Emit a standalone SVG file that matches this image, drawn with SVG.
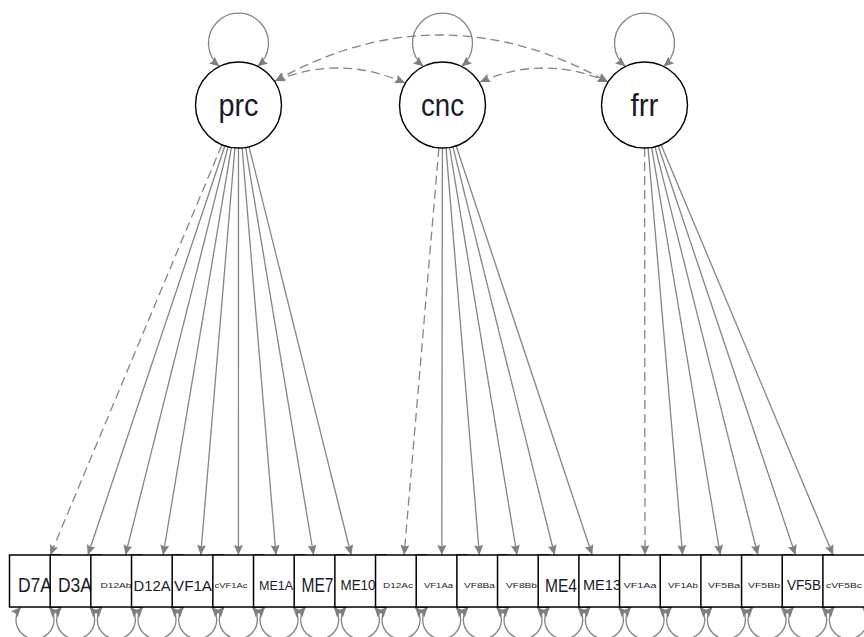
<svg xmlns="http://www.w3.org/2000/svg" width="864" height="637" viewBox="0 0 864 637">
<defs>
<marker id="ah" viewBox="0 0 10 9" refX="10" refY="4.5" markerWidth="10" markerHeight="9" markerUnits="userSpaceOnUse" orient="auto-start-reverse"><path d="M0,0 L10,4.5 L0,9 L1.5,4.5 z" fill="#808080"/></marker>
</defs>
<style>
.e{stroke:#858585;stroke-width:1.3;fill:none}
.d{stroke-dasharray:9 5}
.lat{fill:#fff;stroke:#000;stroke-width:1.4}
.box{fill:#fff;stroke:#000;stroke-width:1.5}
.lt{font-family:"Liberation Sans",Arial,sans-serif;fill:#1a1a2a;text-anchor:middle}
</style>
<rect width="864" height="637" fill="#fff"/>
<g id="connectors">
<path class="e" d="M219.5 66.4 A30 30 0 1 1 257.5 66.4" marker-start="url(#ah)" marker-end="url(#ah)"/>
<path class="e" d="M423.5 66.4 A30 30 0 1 1 461.5 66.4" marker-start="url(#ah)" marker-end="url(#ah)"/>
<path class="e" d="M625.5 66.4 A30 30 0 1 1 663.5 66.4" marker-start="url(#ah)" marker-end="url(#ah)"/>
<path class="e d" d="M275 81 Q340 54 405 83" marker-start="url(#ah)" marker-end="url(#ah)"/>
<path class="e d" d="M275 81 Q440 -11.5 608 82" marker-start="url(#ah)" marker-end="url(#ah)"/>
<path class="e d" d="M480 82 Q544 54 608 82" marker-start="url(#ah)" marker-end="url(#ah)"/>
<line class="e d" x1="221.9" y1="144.7" x2="50.3" y2="555" marker-end="url(#ah)"/>
<line class="e" x1="224.9" y1="145.8" x2="87.9" y2="555" marker-end="url(#ah)"/>
<line class="e" x1="228.0" y1="146.7" x2="125.5" y2="555" marker-end="url(#ah)"/>
<line class="e" x1="231.4" y1="147.4" x2="163.1" y2="555" marker-end="url(#ah)"/>
<line class="e" x1="234.9" y1="147.9" x2="200.7" y2="555" marker-end="url(#ah)"/>
<line class="e" x1="238.5" y1="148" x2="238.4" y2="555" marker-end="url(#ah)"/>
<line class="e" x1="242.1" y1="147.9" x2="276.0" y2="555" marker-end="url(#ah)"/>
<line class="e" x1="245.6" y1="147.4" x2="313.6" y2="555" marker-end="url(#ah)"/>
<line class="e" x1="249.0" y1="146.7" x2="351.2" y2="555" marker-end="url(#ah)"/>
<line class="e d" x1="438.9" y1="147.9" x2="404.1" y2="555" marker-end="url(#ah)"/>
<line class="e" x1="442.4" y1="148" x2="441.8" y2="555" marker-end="url(#ah)"/>
<line class="e" x1="446.0" y1="147.9" x2="479.4" y2="555" marker-end="url(#ah)"/>
<line class="e" x1="449.5" y1="147.4" x2="517.0" y2="555" marker-end="url(#ah)"/>
<line class="e" x1="452.9" y1="146.7" x2="554.6" y2="555" marker-end="url(#ah)"/>
<line class="e" x1="456.1" y1="145.8" x2="592.2" y2="555" marker-end="url(#ah)"/>
<line class="e d" x1="644.6" y1="148" x2="645.0" y2="555" marker-end="url(#ah)"/>
<line class="e" x1="648.1" y1="147.9" x2="682.6" y2="555" marker-end="url(#ah)"/>
<line class="e" x1="651.6" y1="147.4" x2="720.3" y2="555" marker-end="url(#ah)"/>
<line class="e" x1="655.0" y1="146.7" x2="757.9" y2="555" marker-end="url(#ah)"/>
<line class="e" x1="658.2" y1="145.8" x2="795.5" y2="555" marker-end="url(#ah)"/>
<line class="e" x1="661.1" y1="144.7" x2="833.1" y2="555" marker-end="url(#ah)"/>
<path class="e" d="M21 607 A19 19 0 1 0 49 607" marker-start="url(#ah)" marker-end="url(#ah)"/>
<path class="e" d="M61.67 607 A19 19 0 1 0 89.67 607" marker-start="url(#ah)" marker-end="url(#ah)"/>
<path class="e" d="M102.34 607 A19 19 0 1 0 130.34 607" marker-start="url(#ah)" marker-end="url(#ah)"/>
<path class="e" d="M143.01 607 A19 19 0 1 0 171.01 607" marker-start="url(#ah)" marker-end="url(#ah)"/>
<path class="e" d="M183.68 607 A19 19 0 1 0 211.68 607" marker-start="url(#ah)" marker-end="url(#ah)"/>
<path class="e" d="M224.35 607 A19 19 0 1 0 252.35 607" marker-start="url(#ah)" marker-end="url(#ah)"/>
<path class="e" d="M265.02 607 A19 19 0 1 0 293.02 607" marker-start="url(#ah)" marker-end="url(#ah)"/>
<path class="e" d="M305.69 607 A19 19 0 1 0 333.69 607" marker-start="url(#ah)" marker-end="url(#ah)"/>
<path class="e" d="M346.36 607 A19 19 0 1 0 374.36 607" marker-start="url(#ah)" marker-end="url(#ah)"/>
<path class="e" d="M387.03 607 A19 19 0 1 0 415.03 607" marker-start="url(#ah)" marker-end="url(#ah)"/>
<path class="e" d="M427.7 607 A19 19 0 1 0 455.7 607" marker-start="url(#ah)" marker-end="url(#ah)"/>
<path class="e" d="M468.37 607 A19 19 0 1 0 496.37 607" marker-start="url(#ah)" marker-end="url(#ah)"/>
<path class="e" d="M509.04 607 A19 19 0 1 0 537.04 607" marker-start="url(#ah)" marker-end="url(#ah)"/>
<path class="e" d="M549.71 607 A19 19 0 1 0 577.71 607" marker-start="url(#ah)" marker-end="url(#ah)"/>
<path class="e" d="M590.38 607 A19 19 0 1 0 618.38 607" marker-start="url(#ah)" marker-end="url(#ah)"/>
<path class="e" d="M631.05 607 A19 19 0 1 0 659.05 607" marker-start="url(#ah)" marker-end="url(#ah)"/>
<path class="e" d="M671.72 607 A19 19 0 1 0 699.72 607" marker-start="url(#ah)" marker-end="url(#ah)"/>
<path class="e" d="M712.39 607 A19 19 0 1 0 740.39 607" marker-start="url(#ah)" marker-end="url(#ah)"/>
<path class="e" d="M753.06 607 A19 19 0 1 0 781.06 607" marker-start="url(#ah)" marker-end="url(#ah)"/>
<path class="e" d="M793.73 607 A19 19 0 1 0 821.73 607" marker-start="url(#ah)" marker-end="url(#ah)"/>
<path class="e" d="M834.4 607 A19 19 0 1 0 862.4 607" marker-start="url(#ah)" marker-end="url(#ah)"/>
</g>
<g id="node-prc"><circle class="lat" cx="238.5" cy="105" r="43"/><text class="lt" x="238.5" y="116" font-size="31" textLength="40" lengthAdjust="spacingAndGlyphs">prc</text></g>
<g id="node-cnc"><circle class="lat" cx="442.5" cy="105" r="43"/><text class="lt" x="442.5" y="116" font-size="31" textLength="43" lengthAdjust="spacingAndGlyphs">cnc</text></g>
<g id="node-frr"><circle class="lat" cx="644.5" cy="105" r="43"/><text class="lt" x="644.5" y="116" font-size="31" textLength="28" lengthAdjust="spacingAndGlyphs">frr</text></g>
<g id="node-1"><rect class="box" x="9.5" y="555" width="51" height="52"/><text class="lt" x="35" y="592" font-size="19.5" textLength="34" lengthAdjust="spacingAndGlyphs">D7A</text></g>
<g id="node-2"><rect class="box" x="50.17" y="555" width="51" height="52"/><text class="lt" x="75" y="592" font-size="19.5" textLength="34" lengthAdjust="spacingAndGlyphs">D3A</text></g>
<g id="node-3"><rect class="box" x="90.84" y="555" width="51" height="52"/><text class="lt" x="116" y="588" font-size="8" textLength="31" lengthAdjust="spacingAndGlyphs">D12Ab</text></g>
<g id="node-4"><rect class="box" x="131.51" y="555" width="51" height="52"/><text class="lt" x="152" y="590.5" font-size="15.4" textLength="37" lengthAdjust="spacingAndGlyphs">D12A</text></g>
<g id="node-5"><rect class="box" x="172.18" y="555" width="51" height="52"/><text class="lt" x="193" y="590.5" font-size="15.4" textLength="38" lengthAdjust="spacingAndGlyphs">VF1A</text></g>
<g id="node-6"><rect class="box" x="212.85" y="555" width="51" height="52"/><text class="lt" x="231" y="588" font-size="8" textLength="33" lengthAdjust="spacingAndGlyphs">cVF1Ac</text></g>
<g id="node-7"><rect class="box" x="253.52" y="555" width="51" height="52"/><text class="lt" x="276" y="589.5" font-size="12.5" textLength="34" lengthAdjust="spacingAndGlyphs">ME1A</text></g>
<g id="node-8"><rect class="box" x="294.19" y="555" width="51" height="52"/><text class="lt" x="317.5" y="592" font-size="19.5" textLength="32" lengthAdjust="spacingAndGlyphs">ME7</text></g>
<g id="node-9"><rect class="box" x="334.86" y="555" width="51" height="52"/><text class="lt" x="358" y="590" font-size="14" textLength="35" lengthAdjust="spacingAndGlyphs">ME10</text></g>
<g id="node-10"><rect class="box" x="375.53" y="555" width="51" height="52"/><text class="lt" x="398" y="588" font-size="8" textLength="30" lengthAdjust="spacingAndGlyphs">D12Ac</text></g>
<g id="node-11"><rect class="box" x="416.2" y="555" width="51" height="52"/><text class="lt" x="438.5" y="588" font-size="8" textLength="29" lengthAdjust="spacingAndGlyphs">VF1Aa</text></g>
<g id="node-12"><rect class="box" x="456.87" y="555" width="51" height="52"/><text class="lt" x="479.5" y="588" font-size="8" textLength="31" lengthAdjust="spacingAndGlyphs">VF8Ba</text></g>
<g id="node-13"><rect class="box" x="497.54" y="555" width="51" height="52"/><text class="lt" x="521.5" y="588" font-size="8" textLength="31" lengthAdjust="spacingAndGlyphs">VF8Bb</text></g>
<g id="node-14"><rect class="box" x="538.21" y="555" width="51" height="52"/><text class="lt" x="561" y="591.5" font-size="18" textLength="32" lengthAdjust="spacingAndGlyphs">ME4</text></g>
<g id="node-15"><rect class="box" x="578.88" y="555" width="51" height="52"/><text class="lt" x="602" y="590" font-size="14" textLength="38" lengthAdjust="spacingAndGlyphs">ME13</text></g>
<g id="node-16"><rect class="box" x="619.55" y="555" width="51" height="52"/><text class="lt" x="640" y="588" font-size="8" textLength="33" lengthAdjust="spacingAndGlyphs">VF1Aa</text></g>
<g id="node-17"><rect class="box" x="660.22" y="555" width="51" height="52"/><text class="lt" x="683" y="588" font-size="8" textLength="30" lengthAdjust="spacingAndGlyphs">VF1Ab</text></g>
<g id="node-18"><rect class="box" x="700.89" y="555" width="51" height="52"/><text class="lt" x="724" y="588" font-size="8" textLength="32" lengthAdjust="spacingAndGlyphs">VF5Ba</text></g>
<g id="node-19"><rect class="box" x="741.56" y="555" width="51" height="52"/><text class="lt" x="764" y="588" font-size="8" textLength="32" lengthAdjust="spacingAndGlyphs">VF5Bb</text></g>
<g id="node-20"><rect class="box" x="782.23" y="555" width="51" height="52"/><text class="lt" x="804" y="590" font-size="14" textLength="34" lengthAdjust="spacingAndGlyphs">VF5B</text></g>
<g id="node-21"><rect class="box" x="822.9" y="555" width="51" height="52"/><text class="lt" x="844" y="588" font-size="8" textLength="36" lengthAdjust="spacingAndGlyphs">cVF5Bc</text></g>
</svg>
